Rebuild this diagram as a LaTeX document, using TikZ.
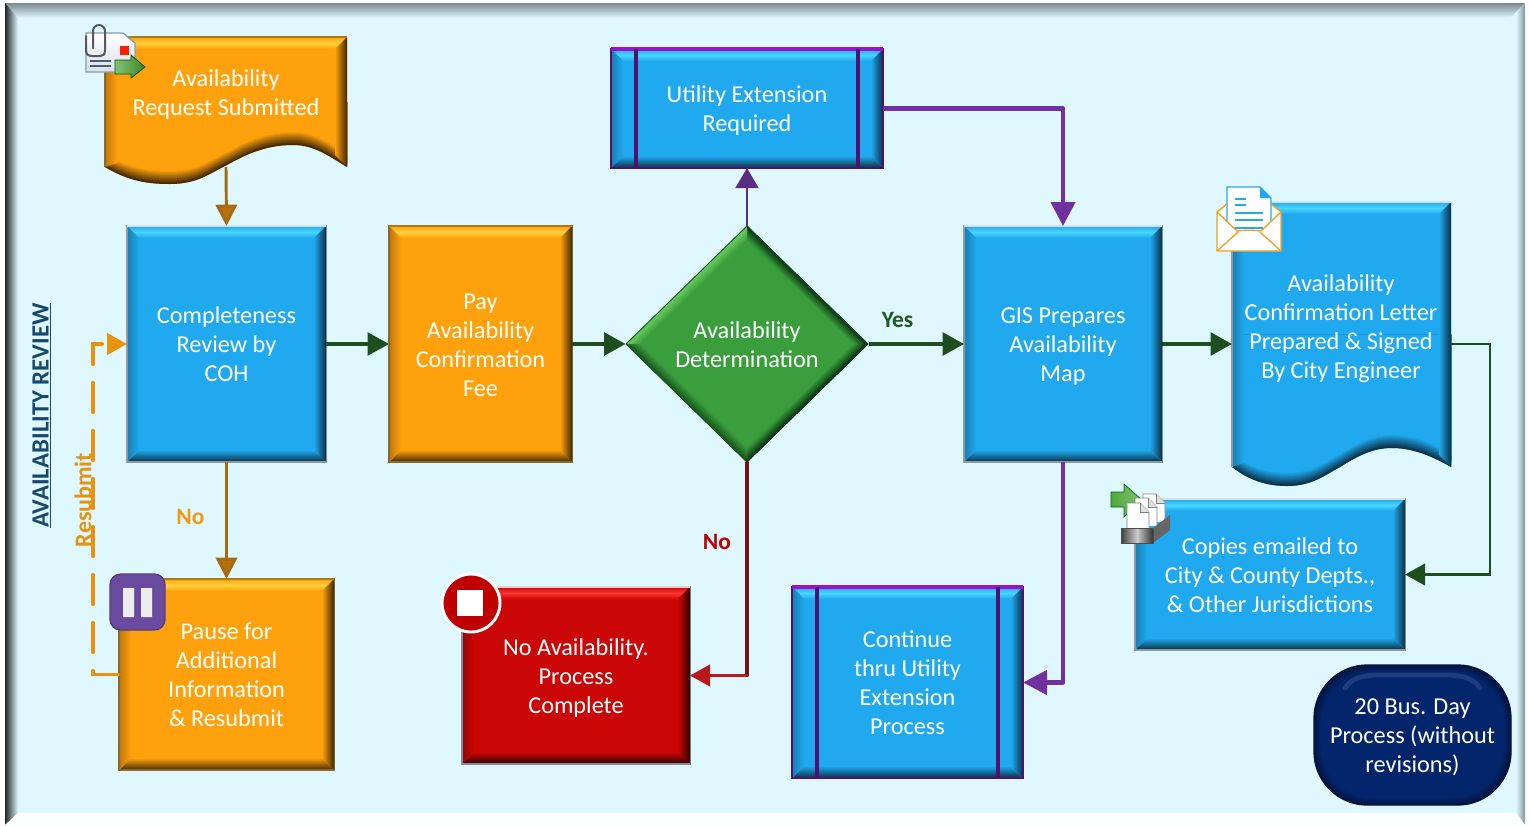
\documentclass[tikz,border=0pt]{standalone}
\usepackage{fontspec}
\setmainfont{Carlito}
\usetikzlibrary{calc,arrows.meta,shapes.geometric}

\definecolor{pagebg}{HTML}{DFF8FF}
\definecolor{bluebase}{HTML}{20A9EE}
\definecolor{bluelight}{HTML}{48D6FF}
\definecolor{bluedark}{HTML}{0B2F45}
\definecolor{bluerim}{HTML}{8F9AA0}
\definecolor{bluetop}{HTML}{D5E0E4}
\definecolor{orangebase}{HTML}{FFA10D}
\definecolor{orangelight}{HTML}{FFD23C}
\definecolor{orangedark}{HTML}{3F2804}
\definecolor{orangerim}{HTML}{8A6A2A}
\definecolor{orangetop}{HTML}{B07A10}
\definecolor{redbase}{HTML}{CB0606}
\definecolor{redlight}{HTML}{FF3434}
\definecolor{reddark}{HTML}{2A0505}
\definecolor{redrim}{HTML}{7F8F95}
\definecolor{redtop}{HTML}{F0D0D0}
\definecolor{greenbase}{HTML}{3A9E3C}
\definecolor{greenlight}{HTML}{74D468}
\definecolor{greendark}{HTML}{06280F}
\definecolor{navybase}{HTML}{03256C}
\definecolor{navydark}{HTML}{011238}
\definecolor{procpurple}{HTML}{4F1070}
\definecolor{procbright}{HTML}{A010C8}
\definecolor{flowgreen}{HTML}{1E4D1E}
\definecolor{flowbrown}{HTML}{A66B10}
\definecolor{flowpurple}{HTML}{7030A0}
\definecolor{flowdeep}{HTML}{5B2D82}
\definecolor{flowred}{HTML}{6E1414}
\definecolor{flowscarlet}{HTML}{B81A1A}
\definecolor{resubmit}{HTML}{E8920F}
\definecolor{titleblue}{HTML}{17496F}
\definecolor{noamber}{HTML}{EE9A12}
\definecolor{nored}{HTML}{C00000}
\definecolor{yesgreen}{HTML}{1E5A1E}
\definecolor{iconpurple}{HTML}{6A4BA0}
\definecolor{mailedge}{HTML}{7F9DB5}
\definecolor{mailline}{HTML}{4A5F80}
\definecolor{arrowgreen}{HTML}{4FA83A}
\definecolor{envorange}{HTML}{F0A020}

\def\boxstrut{\rule[-0.22\baselineskip]{0pt}{0.5\baselineskip}}
\def\boxtop{\rule{0pt}{18pt}}

\tikzset{
	sized/.style 2 args={minimum width=#1*0.75pt, minimum height=#2*0.75pt, inner sep=0pt, outer sep=0pt},
	boxtext/.style={text=white, align=center, font=\fontsize{18.2}{21.75}\selectfont, execute at end node=\boxstrut},
	flowbox/.style={boxtext, rectangle, fill=#1base, draw=#1rim, line width=1.5pt},
	procbox/.style={boxtext, rectangle, fill=bluebase, draw=procpurple, line width=2.2pt},
	labeltext/.style={font=\fontsize{17.6}{21.75}\selectfont\bfseries},
	line green/.style={draw=flowgreen, line width=2.6pt, -{Triangle[length=16pt,width=17pt]}},
	thin green/.style={draw=flowgreen, line width=2.2pt, -{Triangle[length=15pt,width=16pt]}},
	line brown/.style={draw=flowbrown, line width=2.2pt, -{Triangle[length=16pt,width=16pt,fill=flowbrown!80!orange]}},
	line purple/.style={draw=flowpurple, line width=3.4pt, line join=round, -{Triangle[length=18pt,width=18pt]}},
}

% bevel round a plain box
\def\boxbevel#1#2{
	\def\bw{12}
	\shade[top color=#2base, bottom color=#2base, middle color=#2light] (#1.north west) -- (#1.north east) -- ($(#1.north east)+(-\bw,\bw)$) -- ($(#1.north west)+(\bw,\bw)$) -- cycle;
	\shade[top color=#2base, bottom color=#2dark] ($(#1.south west)+(\bw,-\bw)$) -- ($(#1.south east)+(-\bw,-\bw)$) -- (#1.south east) -- (#1.south west) -- cycle;
	\shade[left color=#2base, right color=#2dark] ($(#1.north east)+(-\bw,\bw)$) -- (#1.north east) -- (#1.south east) -- ($(#1.south east)+(-\bw,-\bw)$) -- cycle;
	\shade[left color=#2dark!35!#2base, right color=#2base] (#1.north west) -- ($(#1.north west)+(\bw,\bw)$) -- ($(#1.south west)+(\bw,-\bw)$) -- (#1.south west) -- cycle;
	\draw[#2rim, line width=1.5pt] (#1.north west) -- (#1.south west) -- (#1.south east);
	\draw[#2top, line width=1.2pt] (#1.north west) -- (#1.north east);
}
% inner bars of the two process boxes
\def\procbars#1{
	\draw[procpurple, line width=2.2pt] (#1.north west) rectangle (#1.south east);
	\draw[procbright, line width=2.4pt] (#1.north west) -- (#1.north east);
	\draw[procpurple, line width=2.6pt] ($(#1.north west)+(25,0)$) -- ($(#1.south west)+(25,0)$);
	\draw[procpurple, line width=2.6pt] ($(#1.north east)+(-25,0)$) -- ($(#1.south east)+(-25,0)$);
}
% box with a wavy lower edge
\def\docshape#1#2#3{
	\fill[#2base] (#1.north west) -- #3 -- (#1.north east) -- cycle;
	\foreach \i [evaluate=\i as \p using \i*100/13] in {0,...,13} {
		\fill[#2base!\p!#2dark, shift={(0,-\i)}] #3 -- (#1.east) -- (#1.west) -- cycle;
	}
	\shade[top color=#2base, bottom color=#2base, middle color=#2light] (#1.north west) -- (#1.north east) -- ($(#1.north east)+(-12,12)$) -- ($(#1.north west)+(12,12)$) -- cycle;
	\shade[left color=#2base, right color=#2dark] ($(#1.north east)+(-12,12)$) -- (#1.north east) -- (#1.south east) -- ($(#1.south east)+(-12,-12)$) -- cycle;
	\shade[left color=#2dark!35!#2base, right color=#2base] (#1.north west) -- ($(#1.north west)+(12,12)$) -- ($(#1.south west)+(12,-4)$) -- (#1.south west) -- cycle;
	\draw[#2rim, line width=1.5pt] (#1.north west) -- (#1.south west);
	\draw[#2top, line width=1.2pt] (#1.north west) -- (#1.north east);
}

\begin{document}
\begin{tikzpicture}[x=0.75pt, y=-0.75pt]
	\useasboundingbox (0,0) rectangle (1530,825);
	%%%%% FRAME %%%%%
	\fill[pagebg] (5,3) rectangle (1525,813);
	\shade[top color=black!45!pagebg, bottom color=pagebg] (5,3) -- (1525,3) -- (1510,18) -- (18,18) -- cycle;
	\shade[left color=black!85!pagebg, right color=pagebg] (5,3) -- (18,18) -- (18,813) -- (5,825) -- cycle;
	\shade[left color=pagebg, right color=black!40!pagebg] (1516,12) -- (1525,3) -- (1525,825) -- (1516,813) -- cycle;
	\fill[white!90!pagebg] (18,813) -- (1516,813) -- (1525,825) -- (5,825) -- cycle;

	\node[rotate=90, text=titleblue, font=\fontsize{18.6}{20}\selectfont\bfseries] (title) at (42,415.5) {\underline{AVAILABILITY REVIEW}};

	%%%%% BOXES %%%%%
	\node[sized={242}{130}] (request) at (226,102) {};
	\docshape{request}{orange}{(105,167) .. controls (130,182) and (150,184) .. (170,184) .. controls (198,184) and (210,173) .. (227,165) .. controls (245,155) and (265,145) .. (293,145) .. controls (315,145) and (330,157) .. (347,167)}
	\node[boxtext] (requesttext) at (226,92) {\boxtop Availability\\Request Submitted};

	\node[flowbox=blue, sized={199}{236}] (review) at (226.5,344) {\boxtop Completeness\\Review by\\COH};
	\boxbevel{review}{blue}
	\node[flowbox=orange, sized={183}{236}] (fee) at (480.5,344) {\boxtop Pay\\Availability\\Confirmation\\Fee};
	\boxbevel{fee}{orange}

	\node[diamond, shape aspect=1, boxtext, fill=greenbase, sized={243}{237}] (det) at (747,344) {\boxtop Availability\\Determination};
	\begin{scope}
		\clip (det.west) -- (det.north) -- (det.east) -- (det.south) -- cycle;
		\foreach \i [evaluate=\i as \p using \i*100/16] in {0,...,16} {
			\draw[greenbase!\p!greendark, line width=1.2pt] ($(det.north)+(0,\i)$) -- ($(det.east)+(-\i,0)$);
			\draw[greenbase!\p!greendark, line width=1.2pt] ($(det.south)+(0,-\i)$) -- ($(det.east)+(-\i,0)$);
			\draw[greenbase!\p!greendark!70!greenbase, line width=1.2pt] ($(det.south)+(0,-\i)$) -- ($(det.west)+(\i,0)$);
			\draw[greenbase!\p!greenlight, line width=1.2pt] ($(det.north)+(0,\i)$) -- ($(det.west)+(\i,0)$);
		}
		\draw[greendark!70!greenbase, line width=1.2pt] (det.west) -- (det.north) -- (det.east);
	\end{scope}

	\node[procbox, sized={272}{119}] (ext) at (747,108.5) {\boxtop Utility Extension\\Required};
	\boxbevel{ext}{blue}
	\procbars{ext}

	\node[flowbox=blue, sized={198}{236}] (gis) at (1063,344) {\boxtop GIS Prepares\\Availability\\Map};
	\boxbevel{gis}{blue}

	\node[sized={219}{265}] (letter) at (1341.5,334.5) {};
	\docshape{letter}{blue}{(1232,467) .. controls (1250,481) and (1268,486) .. (1287,486) .. controls (1312,486) and (1325,475) .. (1340,467) .. controls (1358,456) and (1372,448) .. (1392,448) .. controls (1415,448) and (1435,458) .. (1451,467)}
	\node[boxtext] (lettertext) at (1341,326) {\boxtop Availability\\Confirmation Letter\\Prepared \& Signed\\By City Engineer};

	\node[flowbox=blue, sized={270}{151}] (copies) at (1270,574.5) {\boxtop Copies emailed to\\City \& County Depts.,\\\& Other Jurisdictions};
	\boxbevel{copies}{blue}

	\node[flowbox=orange, sized={215}{191}] (pause) at (226.5,674.5) {\boxtop Pause for\\Additional\\Information\\\& Resubmit};
	\boxbevel{pause}{orange}

	\node[flowbox=red, sized={228}{177}] (stop) at (576,675.5) {\boxtop No Availability.\\Process\\Complete};
	\boxbevel{stop}{red}

	\node[procbox, sized={231}{191}] (cont) at (907.5,682.5) {\boxtop Continue\\thru Utility\\Extension\\Process};
	\boxbevel{cont}{blue}
	\procbars{cont}

	\node[boxtext, rectangle, fill=navybase, rounded corners=40pt, sized={197}{140}] (days) at (1412.5,735) {\boxtop 20 Bus. Day\\Process (without\\revisions)};
	\foreach \i [evaluate=\i as \p using \i*100/7] in {0,...,7} {
		\draw[navybase!\p!navydark, rounded corners=40pt, line width=1pt] ($(days.north west)+(\i,\i)$) rectangle ($(days.south east)+(-\i,-\i)$);
	}
	\draw[white!25!navybase, opacity=0.45, line width=3.5pt, line cap=round] (1345,688) .. controls (1352,678) and (1362,675) .. (1380,675) -- (1445,675) .. controls (1463,675) and (1473,678) .. (1480,688);

	%%%%% CONNECTORS %%%%%
	\coordinate (stopbend) at (det.south |- stop.east);
	\coordinate (resubmitbend) at (93,344);

	\draw[line brown] (request.south) -- (review.north);
	\draw[line brown] (review.south) -- (pause.north);
	\draw[line green] (review.east) -- (fee.west);
	\draw[line green] (fee.east) -- (det.west);
	\draw[line green] (det.east) -- (gis.west);
	\draw[line green] (gis.east) -- (gis.east -| letter.west);
	\draw[thin green] (gis.east -| letter.east) -- ++(39,0) |- (copies.east);
	\draw[draw=flowdeep, line width=2.2pt, -{Triangle[length=15pt,width=17pt]}] (det.north) -- (ext.south);
	\draw[line purple] (ext.east) -| (gis.north);
	\draw[line purple] (gis.south) |- (cont.east);
	\draw[flowred, line width=2.4pt, line cap=round] (det.south) -- (stopbend);
	\draw[flowscarlet, line width=2.4pt, line cap=round, -{Triangle[length=15pt,width=16pt]}] (stopbend) -- (stop.east);
	\draw[resubmit, line width=2.4pt, line cap=round, dash pattern=on 22.5pt off 13.5pt, -{Triangle[length=15pt,width=16pt]}] (pause.west) -| (resubmitbend) -- (review.west);

	\node[labeltext, text=noamber] (nopause) at (190.5,517) {No};
	\node[labeltext, text=nored] (nostop) at (717,542) {No};
	\node[labeltext, text=yesgreen] (yes) at (897.5,320) {Yes};
	\node[labeltext, text=resubmit, rotate=90, font=\fontsize{18}{20}\selectfont\bfseries] (resubmitlabel) at (83,500) {Resubmit};

	%%%%% ICONS %%%%%
	% mail with clip
	\draw[mailedge, line width=1pt, top color=white, bottom color=mailedge!30!white] (86,33) -- (123,33) -- (135,43) -- (135,72) -- (86,72) -- cycle;
	\fill[red!75!orange] (120,46) rectangle (129,55);
	\draw[mailline, line width=1pt] (90,61) -- (111,61) (90,66) -- (111,66);
	\draw[black!65, line width=1.5pt, line cap=round] (93,48) -- (93,31) arc (180:360:6) -- (105,50) .. controls (105,55) and (103,56) .. (100,56) -- (92,56) .. controls (88,56) and (86,54) .. (86,50) -- (86,36);
	\draw[green!35!black, line width=0.6pt, left color=arrowgreen!70!white, right color=arrowgreen!80!black] (115,60) -- (131,60) -- (131,55) -- (145,67) -- (131,78) -- (131,74) -- (115,74) -- cycle;

	% pause
	\fill[iconpurple, draw=iconpurple!80!black, line width=1pt, rounded corners=8pt] (110,574) rectangle (165,630);
	\fill[black!7] (123,588) rectangle (134,617) (141,588) rectangle (152,617);

	% stop
	\draw[white, fill=nored, line width=2.2pt] (471,603) circle (29);
	\fill[white] (457,590) rectangle (483,616);

	% letter in envelope
	\fill[white] (1217,212) -- (1227,204) -- (1271,204) -- (1281,212) -- (1281,251) -- (1217,251) -- cycle;
	\draw[bluebase, fill=white, line width=1pt] (1227,232) -- (1227,187) -- (1260,187) -- (1271,198) -- (1271,232);
	\fill[bluebase] (1260,187) -- (1271,198) -- (1260,198) -- cycle;
	\draw[bluebase, line width=1pt] (1235,199) -- (1246,199) (1235,205) -- (1246,205) (1235,213) -- (1263,213) (1235,220) -- (1263,220) (1235,228) -- (1263,228);
	\draw[envorange, fill=white, line width=1pt, line join=round] (1217,212) -- (1237,231) .. controls (1245,230) and (1253,230) .. (1261,231) -- (1281,212) -- (1281,251) -- (1217,251) -- cycle;
	\draw[envorange, line width=1pt] (1217,212) -- (1227,204) (1281,212) -- (1271,204) (1217,251) -- (1238,232) (1281,251) -- (1260,232);

	% files in tray
	\draw[green!40!black, line width=0.5pt, left color=arrowgreen, right color=arrowgreen!70!white] (1111,492) -- (1124,492) -- (1124,484) -- (1142,500) -- (1124,517) -- (1124,507) -- (1111,507) -- cycle;
	\foreach \fx/\fy in {1143/494, 1135/498, 1127/503} {
		\draw[black!50, fill=white, line width=0.7pt] (\fx,\fy+28) -- (\fx,\fy) -- (\fx+13,\fy) -- (\fx+22,\fy+9) -- (\fx+22,\fy+28);
		\draw[black!50, fill=black!12, line width=0.7pt] (\fx+13,\fy) -- (\fx+13,\fy+9) -- (\fx+22,\fy+9);
	}
	\fill[black!60] (1153,528) -- (1170,515) -- (1170,530) -- (1153,543) -- cycle;
	\shade[left color=black!75, right color=black!80, middle color=black!20] (1121,528) rectangle (1153,543);
	\draw[black!70, line width=0.6pt] (1121,528) rectangle (1153,543);
\end{tikzpicture}
\end{document}
